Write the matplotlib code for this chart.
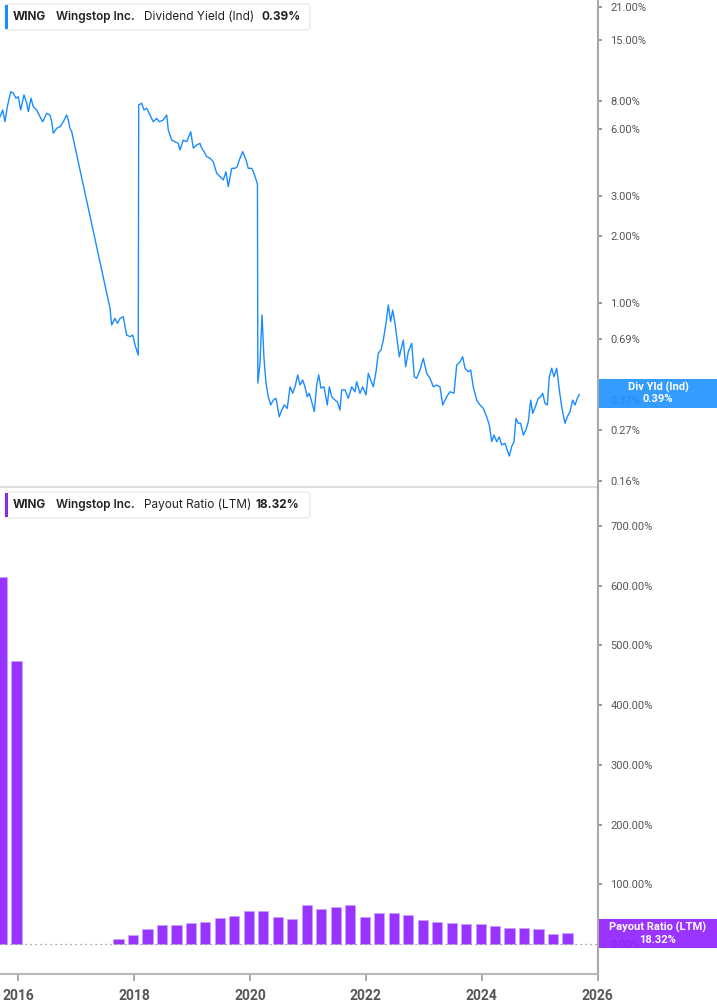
import matplotlib
matplotlib.use("Agg")
import matplotlib.pyplot as plt
from matplotlib.patches import FancyBboxPatch, Rectangle

# Dividend yield (Ind), %, decimal years
yield_dates = [
    2015.684, 2015.731, 2015.770, 2015.810, 2015.869, 2015.914, 2015.960, 2016.000,
    2016.041, 2016.098, 2016.145, 2016.173, 2016.219, 2016.259, 2016.318, 2016.375,
    2016.421, 2016.490, 2016.547, 2016.577, 2016.604, 2016.663, 2016.720, 2016.777,
    2016.835, 2016.863, 2016.892, 2016.922,
    2017.583, 2017.612, 2017.669, 2017.709, 2017.756, 2017.813, 2017.842, 2017.871,
    2017.928, 2017.975, 2018.015, 2018.071,
    2018.078, 2018.130, 2018.170, 2018.216, 2018.274, 2018.330, 2018.389, 2018.434,
    2018.503, 2018.562, 2018.589, 2018.648, 2018.705, 2018.762, 2018.791, 2018.848,
    2018.907, 2018.976, 2019.021, 2019.080, 2019.136, 2019.166, 2019.206, 2019.252,
    2019.309, 2019.366, 2019.425, 2019.482, 2019.539, 2019.585, 2019.625, 2019.684,
    2019.741, 2019.780, 2019.815, 2019.874, 2019.931, 2019.970, 2020.029, 2020.069,
    2020.115, 2020.128,
    2020.135, 2020.172, 2020.207, 2020.241, 2020.276, 2020.315, 2020.357, 2020.402,
    2020.448, 2020.505, 2020.547, 2020.592, 2020.643, 2020.690, 2020.737, 2020.776,
    2020.823, 2020.863, 2020.909, 2020.949, 2020.989, 2021.023, 2021.065, 2021.110,
    2021.151, 2021.186, 2021.225, 2021.277, 2021.334, 2021.369, 2021.410, 2021.467,
    2021.507, 2021.553, 2021.583, 2021.640, 2021.696, 2021.755, 2021.812, 2021.841,
    2021.898, 2021.945, 2022.002, 2022.042, 2022.083, 2022.128, 2022.175, 2022.214,
    2022.261, 2022.301, 2022.347, 2022.387, 2022.428, 2022.463, 2022.503, 2022.532,
    2022.577, 2022.618, 2022.646, 2022.687, 2022.732, 2022.791, 2022.836, 2022.877,
    2022.934, 2022.991, 2023.050, 2023.107, 2023.164, 2023.222, 2023.279, 2023.326,
    2023.395, 2023.452, 2023.521, 2023.568, 2023.625, 2023.671, 2023.711, 2023.768,
    2023.809, 2023.854, 2023.913, 2023.970, 2024.027, 2024.086, 2024.130, 2024.172,
    2024.212, 2024.258, 2024.303, 2024.344, 2024.401, 2024.441, 2024.476, 2024.517,
    2024.557, 2024.591, 2024.631, 2024.672, 2024.717, 2024.764, 2024.804, 2024.845,
    2024.880, 2024.937, 2024.976, 2025.018, 2025.052, 2025.092, 2025.132, 2025.166,
    2025.208, 2025.247, 2025.294, 2025.339, 2025.380, 2025.437, 2025.477, 2025.524,
    2025.570, 2025.610, 2025.650, 2025.684,
]
yield_values = [
    6.80, 7.29, 6.46, 7.54, 8.80, 8.66, 8.23, 8.36,
    7.29, 8.51, 7.84, 7.17, 8.23, 7.54, 7.29, 6.80,
    6.46, 7.05, 6.92, 6.46, 5.74, 6.04, 6.14, 6.46,
    6.92, 6.58, 6.04, 5.83,
    0.947, 0.797, 0.854, 0.811, 0.854, 0.868, 0.784, 0.719,
    0.707, 0.719, 0.649, 0.585,
    7.68, 7.81, 7.29, 7.42, 6.92, 6.46, 6.69, 6.46,
    6.58, 6.92, 5.93, 5.35, 5.26, 5.17, 4.83, 5.35,
    5.26, 5.83, 4.92, 5.09, 5.17, 4.92, 4.75, 4.51,
    4.44, 4.28, 3.80, 3.67, 3.55, 3.86, 3.31, 4.00,
    4.00, 4.07, 4.36, 4.75, 4.36, 4.00, 4.00, 3.80,
    3.48, 3.40,
    0.438, 0.538, 0.884, 0.566, 0.438, 0.381, 0.350, 0.368,
    0.375, 0.310, 0.332, 0.350, 0.338, 0.422, 0.395, 0.422,
    0.477, 0.430, 0.453, 0.422, 0.381, 0.395, 0.362, 0.327,
    0.430, 0.477, 0.416, 0.422, 0.350, 0.422, 0.381, 0.368,
    0.362, 0.332, 0.409, 0.409, 0.375, 0.422, 0.401, 0.445,
    0.395, 0.422, 0.388, 0.485, 0.453, 0.422, 0.493, 0.596,
    0.617, 0.683, 0.811, 0.980, 0.825, 0.930, 0.811, 0.707,
    0.575, 0.638, 0.683, 0.519, 0.606, 0.661, 0.468, 0.461,
    0.502, 0.566, 0.485, 0.461, 0.422, 0.430, 0.422, 0.350,
    0.381, 0.401, 0.395, 0.528, 0.546, 0.575, 0.511, 0.493,
    0.502, 0.422, 0.368, 0.350, 0.338, 0.310, 0.285, 0.240,
    0.257, 0.240, 0.252, 0.232, 0.236, 0.220, 0.207, 0.228,
    0.240, 0.305, 0.290, 0.290, 0.257, 0.271, 0.295, 0.368,
    0.321, 0.350, 0.375, 0.381, 0.395, 0.356, 0.350, 0.468,
    0.511, 0.468, 0.511, 0.409, 0.344, 0.290, 0.310, 0.327,
    0.368, 0.350, 0.375, 0.390,
]

# Payout ratio (LTM), % -- quarterly bars
payout_dates = [
    2015.72, 2015.97,
    2017.73, 2017.98, 2018.23, 2018.48, 2018.73, 2018.98, 2019.23, 2019.48,
    2019.73, 2019.98, 2020.23, 2020.48, 2020.73, 2020.98, 2021.23, 2021.48,
    2021.73, 2021.98, 2022.23, 2022.48, 2022.73, 2022.98, 2023.23, 2023.48,
    2023.73, 2023.98, 2024.23, 2024.48, 2024.73, 2024.98, 2025.23, 2025.48,
]
payout_values = [
    614.0, 474.0,
    8.9, 15.6, 24.6, 31.3, 31.3, 35.0, 36.8, 43.5,
    47.5, 55.9, 55.3, 44.7, 41.3, 64.8, 58.1, 62.0,
    64.8, 45.2, 51.9, 51.4, 48.6, 39.6, 36.2, 36.0,
    33.5, 33.8, 29.6, 26.2, 26.2, 25.0, 17.5, 18.32,
]

yield_ticks = [21, 15, 8, 6, 3, 2, 1, 0.69, 0.37, 0.27, 0.16]
payout_ticks = [0, 100, 200, 300, 400, 500, 600, 700]
year_ticks = [2016, 2018, 2020, 2022, 2024, 2026]

BLUE = "#1a8cff"
PURPLE = "#9933ff"
W, H = 717, 1005


def fx(px):
    return px / W


def fy(py):
    return 1 - py / H


fig = plt.figure(figsize=(W / 100, H / 100), dpi=100)
fig.patch.set_facecolor("white")

ax1 = fig.add_axes([0, fy(487), fx(598), 487 / H])
ax2 = fig.add_axes([0, fy(974), fx(598), 487 / H])

# top: dividend yield line on a log scale
ax1.plot(yield_dates, yield_values, color=BLUE, lw=1.0)
ax1.set_yscale("log")
ax1.set_ylim(0.1505, 22.62)
ax1.set_xlim(2015.684, 2026.007)
ax1.set_yticks(yield_ticks)
ax1.set_yticklabels([f"{v:.2f}%" for v in yield_ticks])
ax1.minorticks_off()
ax1.set_xticks([])

# bottom: payout ratio bars
ax2.bar(payout_dates, payout_values, width=0.175, color=PURPLE,
        edgecolor="#c9a2ff", linewidth=0.6)
ax2.axhline(0, color="#888888", lw=0.9, ls=(0, (1, 3)))
ax2.set_ylim(-50.2, 765.4)
ax2.set_xlim(2015.684, 2026.007)
ax2.set_yticks(payout_ticks)
ax2.set_yticklabels([f"{v:.2f}%" for v in payout_ticks])
ax2.set_xticks(year_ticks)
ax2.set_xticklabels([str(y) for y in year_ticks])

for ax in (ax1, ax2):
    ax.set_facecolor("none")
    ax.yaxis.tick_right()
    ax.spines["left"].set_visible(False)
    ax.spines["top"].set_visible(False)
    ax.spines["right"].set_color("#a8a8a8")
    ax.spines["right"].set_linewidth(1.5)
    ax.tick_params(axis="y", direction="out", length=3, width=1.2,
                   color="#888888", pad=6, labelsize=8, labelcolor="#555555")
    for lab in ax.get_yticklabels():
        lab.set_family("Roboto")

ax1.spines["bottom"].set_color("#dddddd")
ax1.spines["bottom"].set_linewidth(1.5)
ax2.spines["bottom"].set_color("#b8b8b8")
ax2.spines["bottom"].set_linewidth(1.5)
ax2.tick_params(axis="x", direction="out", length=5, width=1.2,
                color="#999999", pad=6, labelsize=10, labelcolor="#555555")
for lab in ax2.get_xticklabels():
    lab.set_family("Roboto")
    lab.set_fontweight("bold")


def legend_box(y_top, accent, parts):
    box = FancyBboxPatch((fx(5), fy(y_top + 26)), fx(305), 26 / H,
                         boxstyle="round,pad=0,rounding_size=0.004",
                         transform=fig.transFigure, facecolor="white",
                         edgecolor="#e6e6e6", lw=0.8, zorder=5)
    fig.patches.append(box)
    fig.patches.append(Rectangle((fx(5), fy(y_top + 25)), fx(3), 24 / H,
                                 transform=fig.transFigure, facecolor=accent,
                                 edgecolor="none", zorder=6))
    for xp, txt, wt in parts:
        fig.text(fx(xp), fy(y_top + 13), txt, fontsize=8.5, family="Inter",
                 fontweight=wt, color="#222222", va="center", ha="left",
                 zorder=7)


legend_box(4, BLUE, [(13, "WING", "bold"), (56, "Wingstop Inc.", "semibold"),
                     (144, "Dividend Yield (Ind)", "normal"),
                     (262, "0.39%", "bold")])
legend_box(492, "#8a2be2", [(13, "WING", "bold"),
                            (56, "Wingstop Inc.", "semibold"),
                            (144, "Payout Ratio (LTM)", "normal"),
                            (256, "18.32%", "bold")])


def value_box(y_top, y_bot, color, line1, line2):
    fig.patches.append(Rectangle((fx(599), fy(y_bot)), fx(118), (y_bot - y_top) / H,
                                 transform=fig.transFigure, facecolor=color,
                                 edgecolor="none", alpha=0.9, zorder=5))
    mid = (y_top + y_bot) / 2
    fig.text(fx(658), fy(mid - 6), line1, fontsize=8, family="Roboto",
             fontweight="bold", color="white", ha="center", va="center", zorder=6)
    fig.text(fx(658), fy(mid + 6), line2, fontsize=8, family="Roboto",
             fontweight="bold", color="white", ha="center", va="center", zorder=6)


value_box(379, 408, "#1e90ff", "Div Yld (Ind)", "0.39%")
value_box(919, 948, "#8f1fff", "Payout Ratio (LTM)", "18.32%")

fig.savefig("out.png", dpi=100)
